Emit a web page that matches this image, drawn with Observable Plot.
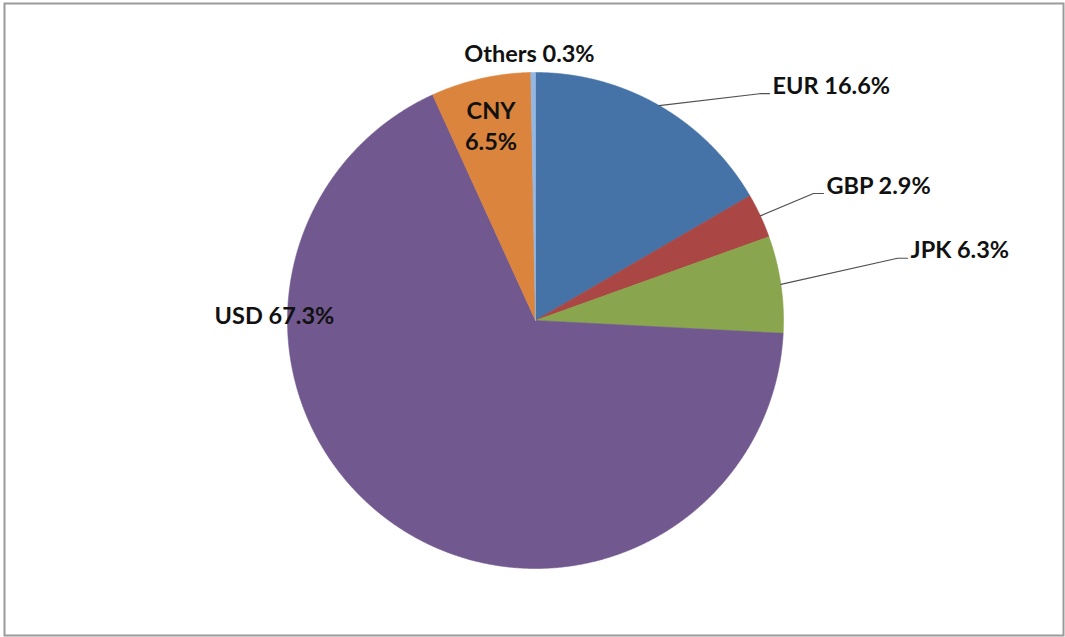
<!DOCTYPE html>
<html><head><meta charset="utf-8">
<script src="https://cdn.jsdelivr.net/npm/d3@7"></script>
<script src="https://cdn.jsdelivr.net/npm/@observablehq/plot@0.6"></script>
<style>body{margin:0;background:#fff}#chart svg{display:block}</style>
</head><body><div id="chart"></div>
<script>
// ---- data ----
const currencies = ["EUR", "GBP", "JPK", "USD", "CNY", "Others"];
const shares = [16.6, 2.9, 6.3, 67.3, 6.5, 0.3];
const labels = ["EUR 16.6%", "GBP 2.9%", "JPK 6.3%", "USD 67.3%", "CNY\n6.5%", "Others 0.3%"];
const colors = ["#4572a7", "#aa4643", "#89a54e", "#71588f", "#db843d", "#93b7e3"];

// ---- layout (label placement in polar terms relative to the pie radius) ----
const W = 1065, H = 637, cx = 535, cy = 320, R = 248;
const labelLayout = {
  EUR:    {r: 1.314, a: 45.9, leader: true},
  GBP:    {r: 1.269, a: 66.2, leader: true},
  JPK:    {r: 1.521, a: 80.5, leader: true},
  USD:    {r: 1.053, a: 271.5, leader: false},
  CNY:    {r: 0.81,  a: null, leader: false},
  Others: {r: 1.081, a: 358.7, leader: false}
};

const rows = currencies.map((c, i) => ({key: c, value: shares[i], label: labels[i]}));
const arcs = d3.pie().sort(null).value(d => d.value)(rows);

const slicePts = [];
for (const a of arcs) {
  slicePts.push({key: a.data.key, x: 0, y: 0});
  const n = Math.max(2, Math.ceil((a.endAngle - a.startAngle) / 0.004));
  for (let k = 0; k <= n; k++) {
    const t = a.startAngle + (a.endAngle - a.startAngle) * k / n;
    slicePts.push({key: a.data.key, x: Math.sin(t), y: Math.cos(t)});
  }
  slicePts.push({key: a.data.key, x: 0, y: 0});
}

const leaderPts = [];
const textRows = [];
for (const a of arcs) {
  const L = labelLayout[a.data.key];
  const mid = (a.startAngle + a.endAngle) / 2;
  const ang = L.a == null ? mid : L.a * Math.PI / 180;
  const px = L.r * Math.sin(ang), py = L.r * Math.cos(ang);
  if (L.leader) {
    leaderPts.push({key: a.data.key, x: Math.sin(mid), y: Math.cos(mid)});
    leaderPts.push({key: a.data.key, x: px - 10 / R, y: py});
    leaderPts.push({key: a.data.key, x: px, y: py});
    textRows.push({text: a.data.label, x: px + 3 / R, y: py + 7.5 / R, anchor: "start"});
  } else {
    textRows.push({text: a.data.label, x: px, y: py, anchor: "middle"});
  }
}

const font = {fontSize: 23.5, fontWeight: "bold", fontFamily: "Lato", fill: "#111", lineAnchor: "middle"};

const chart = Plot.plot({
  width: W, height: H,
  marginLeft: 0, marginRight: 0, marginTop: 0, marginBottom: 0,
  x: {domain: [(0 - cx) / R, (W - cx) / R], axis: null},
  y: {domain: [(cy - H) / R, cy / R], axis: null},
  color: {domain: currencies, range: colors},
  style: {background: "#fff"},
  marks: [
    Plot.frame({stroke: "#9a9a9a", strokeWidth: 2, insetLeft: 4, insetTop: 3, insetRight: 2, insetBottom: 2}),
    Plot.line(slicePts, {x: "x", y: "y", z: "key", fill: "key", stroke: "key", strokeWidth: 0.6, curve: "linear"}),
    Plot.line(leaderPts, {x: "x", y: "y", z: "key", stroke: "#505050", strokeWidth: 1.2}),
    Plot.text(textRows.filter(d => d.anchor === "start"), {x: "x", y: "y", text: "text", textAnchor: "start", ...font}),
    Plot.text(textRows.filter(d => d.anchor === "middle"), {x: "x", y: "y", text: "text", textAnchor: "middle", lineHeight: 1.32, ...font})
  ]
});
document.getElementById("chart").append(chart);
</script>
</body></html>
